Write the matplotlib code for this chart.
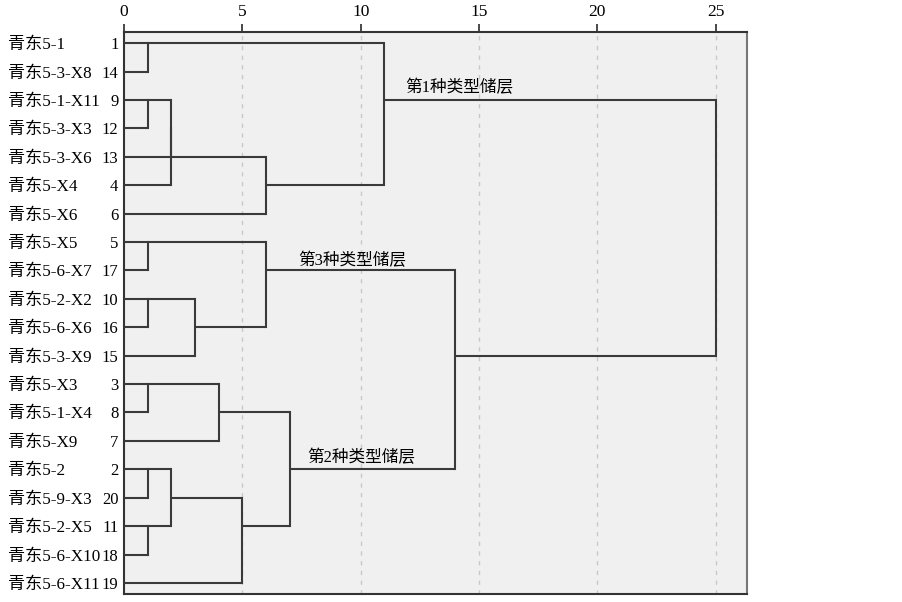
import matplotlib
matplotlib.use("Agg")
import matplotlib.pyplot as plt

# ---- data ----
leaf_order = [1, 14, 9, 12, 13, 4, 6, 5, 17, 10, 16, 15, 3, 8, 7, 2, 20, 11, 18, 19]
leaf_names = ["青东5-1", "青东5-3-X8", "青东5-1-X11", "青东5-3-X3", "青东5-3-X6",
              "青东5-X4", "青东5-X6", "青东5-X5", "青东5-6-X7", "青东5-2-X2",
              "青东5-6-X6", "青东5-3-X9", "青东5-X3", "青东5-1-X4", "青东5-X9",
              "青东5-2", "青东5-9-X3", "青东5-2-X5", "青东5-6-X10", "青东5-6-X11"]
# merges: (child_a, child_b, distance); leaves 1..20, new clusters numbered 21, 22, ...
merge_a = [1, 9, 22, 23, 24, 21, 5, 10, 28, 27, 3, 31, 2, 11, 33, 35, 32, 30, 26]
merge_b = [14, 12, 13, 4, 6, 25, 17, 16, 15, 29, 8, 7, 20, 18, 34, 19, 36, 37, 38]
merge_h = [1, 1, 2, 2, 6, 11, 1, 1, 3, 6, 1, 4, 1, 1, 2, 5, 7, 14, 25]
x_ticks = [0, 5, 10, 15, 20, 25]
group_labels = ["第1种类型储层", "第3种类型储层", "第2种类型储层"]
group_pos = [(11.9, 1.51), (7.34, 7.58), (7.72, 14.53)]

LAT = ["Liberation Serif", "Noto Sans CJK SC"]
LINE = "#3a3a3a"

fig = plt.figure(figsize=(9.03, 6.02), dpi=100)
ax = fig.add_axes([124 / 903, 1 - 594 / 602, (747 - 124) / 903, (594 - 32.3) / 602])
ax.set_facecolor("#f0f0f0")

n = len(leaf_order)
ypos = {leaf: i for i, leaf in enumerate(leaf_order)}
xpos = {leaf: 0.0 for leaf in leaf_order}

for k, (a, b, h) in enumerate(zip(merge_a, merge_b, merge_h)):
    ya, yb = ypos[a], ypos[b]
    ax.plot([xpos[a], h], [ya, ya], color=LINE, lw=1.5, solid_capstyle="butt", zorder=3)
    ax.plot([xpos[b], h], [yb, yb], color=LINE, lw=1.5, solid_capstyle="butt", zorder=3)
    lo, hi = min(ya, yb), max(ya, yb)
    ax.plot([h, h], [lo, hi], color=LINE, lw=1.5, solid_capstyle="projecting", zorder=3)
    cid = n + 1 + k
    ypos[cid] = (lo + hi) // 2
    xpos[cid] = h

for t in x_ticks[1:]:
    ax.axvline(t, color="#c8c8c8", lw=1.0, ls=(0, (3, 4)), zorder=1)

ax.set_xlim(0, 26.32)
ax.set_ylim(19.39, -0.38)

ax.xaxis.tick_top()
ax.set_xticks(x_ticks)
ax.set_xticklabels([str(t) for t in x_ticks], fontsize=12.5, family=LAT)
ax.tick_params(axis="x", direction="out", length=6, width=1.3, color=LINE, pad=3)

ax.set_yticks(range(n))
ax.set_yticklabels([str(v) for v in leaf_order], fontsize=12, family=LAT)
ax.tick_params(axis="y", length=0, pad=4)

for i, name in enumerate(leaf_names):
    ax.text(-0.186, i, name, transform=ax.get_yaxis_transform(), ha="left",
            va="center_baseline", fontsize=12.3, family=LAT)

for lab, (gx, gy) in zip(group_labels, group_pos):
    ax.text(gx, gy, lab, ha="left", va="center_baseline", fontsize=12, family=LAT, zorder=4)

for side in ["left", "top", "bottom"]:
    ax.spines[side].set_color("#333333")
    ax.spines[side].set_linewidth(1.5)
ax.spines["right"].set_color("#777777")
ax.spines["right"].set_linewidth(1.5)

fig.savefig("out.png", dpi=100)
